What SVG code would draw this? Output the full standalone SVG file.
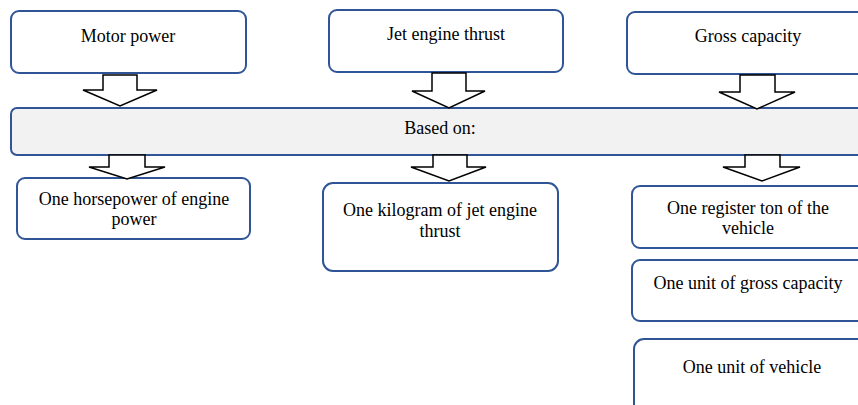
<svg xmlns="http://www.w3.org/2000/svg" width="858" height="405" viewBox="0 0 858 405">
  <style>
    .box { fill: #ffffff; stroke: #2f5597; stroke-width: 2; }
    .band { fill: #f2f2f2; stroke: #2f5597; stroke-width: 2; }
    .arrow { fill: #ffffff; stroke: #000000; stroke-width: 1.5; stroke-linejoin: miter; }
    .lbl { font-family: 'Liberation Serif', 'Times New Roman', Times, serif; font-size: 18px; fill: #000000; text-anchor: middle; }
  </style>
  <rect width="858" height="405" fill="#ffffff"/>

  <!-- top categories -->
  <g id="motor-power">
    <rect class="box" x="11" y="11" width="235" height="62" rx="8"/>
    <text class="lbl" x="128" y="42">Motor power</text>
  </g>
  <g id="jet-engine-thrust">
    <rect class="box" x="329" y="10" width="234" height="62" rx="8"/>
    <text class="lbl" x="446" y="40">Jet engine thrust</text>
  </g>
  <g id="gross-capacity">
    <rect class="box" x="627" y="12" width="250" height="62" rx="8"/>
    <text class="lbl" x="748" y="42">Gross capacity</text>
  </g>

  <!-- shared basis band -->
  <g id="based-on">
    <rect class="band" x="11" y="108" width="870" height="47" rx="6"/>
    <text class="lbl" x="440" y="134">Based on:</text>
  </g>

  <!-- units -->
  <g id="horsepower-unit">
    <rect class="box" x="17" y="178" width="233" height="61" rx="8"/>
    <text class="lbl" x="134" y="205">One horsepower of engine</text>
    <text class="lbl" x="134" y="225">power</text>
  </g>
  <g id="kilogram-unit">
    <rect class="box" x="323" y="183" width="235" height="88" rx="10"/>
    <text class="lbl" x="440" y="216">One kilogram of jet engine</text>
    <text class="lbl" x="440" y="237">thrust</text>
  </g>
  <g id="register-ton-unit">
    <rect class="box" x="632" y="186" width="250" height="62" rx="8"/>
    <text class="lbl" x="748" y="214">One register ton of the</text>
    <text class="lbl" x="748" y="234">vehicle</text>
  </g>
  <g id="gross-capacity-unit">
    <rect class="box" x="632" y="260" width="250" height="61" rx="8"/>
    <text class="lbl" x="748" y="289">One unit of gross capacity</text>
  </g>
  <g id="vehicle-unit">
    <rect class="box" x="634" y="339" width="250" height="80" rx="10"/>
    <text class="lbl" x="752" y="373">One unit of vehicle</text>
  </g>

  <!-- block arrows -->
  <g id="connectors">
    <polygon class="arrow" points="103,75 137,75 137,90 157,90 120,106 83,90 103,90"/>
    <polygon class="arrow" points="432,73 466,73 466,91 485,91 449,108 412,91 432,91"/>
    <polygon class="arrow" points="740,75 775,75 775,92 795,92 757,109 719,92 740,92"/>
    <polygon class="arrow" points="109,155 145,155 145,167 165,167 127,179 89,167 109,167"/>
    <polygon class="arrow" points="433,155 467,155 467,167 486,167 449,181 411,167 433,167"/>
    <polygon class="arrow" points="745,155 780,155 780,167 800,167 762,181 723,167 745,167"/>
  </g>
</svg>
